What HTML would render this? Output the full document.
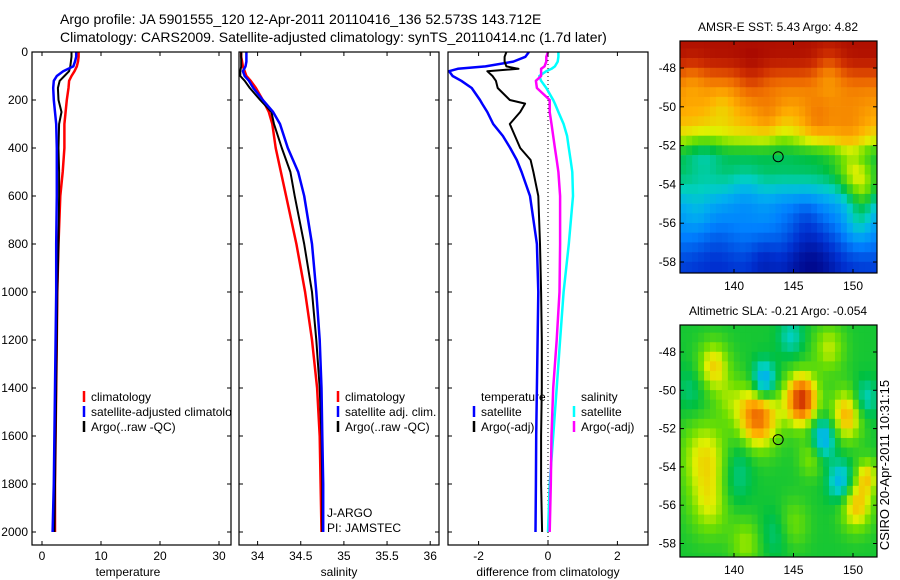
<!DOCTYPE html>
<html><head><meta charset="utf-8"><style>
html,body{margin:0;padding:0;background:#fff;}
svg{display:block;font-family:"Liberation Sans",sans-serif;}
text{fill:#000;}
</style></head><body>
<svg id="fig" width="900" height="580" viewBox="0 0 900 580">
<defs>
<clipPath id="c1"><rect x="32" y="52" width="199" height="493"/></clipPath>
<clipPath id="c2"><rect x="239" y="52" width="200" height="493"/></clipPath>
<clipPath id="c3"><rect x="448" y="52" width="200" height="493"/></clipPath>
<clipPath id="m1"><rect x="680" y="41" width="197" height="232"/></clipPath>
<clipPath id="m2"><rect x="680" y="325" width="197" height="232"/></clipPath>
</defs>
<text x="60" y="24" font-size="14">Argo profile: JA 5901555_120 12-Apr-2011 20110416_136 52.573S 143.712E</text>
<text x="60" y="42" font-size="14">Climatology: CARS2009. Satellite-adjusted climatology: synTS_20110414.nc (1.7d later)</text>
<g id="g"></g>
<text transform="translate(889,465) rotate(-90)" text-anchor="middle" font-size="13">CSIRO 20-Apr-2011 10:31:15</text>
</svg>
<script>
// ---- profile data ----
const depths = [0,20,40,60,80,100,120,150,200,250,300,400,500,600,800,1000,1200,1400,1600,1800,2000];
const tempClim = [6.2,6.2,6.1,5.9,5.5,5.0,4.6,4.5,4.2,4.0,3.8,3.8,3.5,3.1,2.8,2.6,2.5,2.4,2.3,2.2,2.2];
const tempSat = [5.8,5.8,5.6,5.3,3.6,2.5,2.0,1.9,2.0,2.2,2.4,2.5,2.5,2.5,2.4,2.4,2.3,2.2,2.1,2.0,1.8];
const tempArgo = [5.0,5.0,4.9,4.8,4.6,3.8,3.0,2.7,2.8,3.3,2.9,2.8,2.9,2.9,2.8,2.6,2.5,2.4,2.3,2.2,2.1];
const salClim = [33.81,33.81,33.82,33.83,33.85,33.87,33.92,33.98,34.06,34.13,34.17,34.21,34.27,34.33,34.45,34.55,34.63,34.69,34.72,34.73,34.74];
const salSat = [33.87,33.87,33.87,33.86,33.83,33.85,33.9,33.95,34.06,34.18,34.26,34.35,34.47,34.54,34.63,34.68,34.72,34.74,34.75,34.76,34.76];
const salArgo = [33.81,33.81,33.81,33.81,33.80,33.80,33.85,33.91,34.03,34.16,34.19,34.28,34.38,34.43,34.54,34.63,34.68,34.72,34.74,34.75,34.75];
const diffDepths = [0,20,40,60,70,80,100,120,150,200,215,250,300,350,400,450,500,600,800,1000,1200,1400,1600,1800,2000];
const diffTempSat = [-0.55,-0.65,-1.0,-1.8,-2.6,-2.85,-2.75,-2.5,-2.2,-1.96,-1.9,-1.75,-1.58,-1.3,-1.09,-0.9,-0.76,-0.52,-0.32,-0.28,-0.3,-0.32,-0.34,-0.35,-0.36];
const diffTempArgo = [-1.2,-1.25,-1.25,-1.2,-0.85,-1.75,-1.6,-1.5,-1.45,-1.1,-0.66,-0.8,-1.1,-0.95,-0.8,-0.5,-0.42,-0.28,-0.23,-0.2,-0.18,-0.18,-0.2,-0.2,-0.17];
const diffSalSat = [0.3,0.3,0.28,0.2,0.1,-0.05,-0.25,-0.2,-0.05,0.15,0.2,0.3,0.45,0.55,0.6,0.65,0.7,0.72,0.6,0.45,0.35,0.25,0.15,0.05,0.0];
const diffSalArgo = [0,-0.05,-0.05,-0.1,-0.2,-0.2,-0.2,-0.35,-0.32,0.05,0.05,0.05,0.1,0.15,0.2,0.25,0.3,0.35,0.35,0.33,0.25,0.15,0.1,0.08,0.05];
const depthTicks = [0,200,400,600,800,1000,1200,1400,1600,1800,2000];
const tempTicks = [0,10,20,30];
const salTicks = [34,34.5,35,35.5,36];
const salTickLabels = ["34","34.5","35","35.5","36"];
const diffTicks = [-2,0,2];
// ---- map data ----
const sstLats = [46.5,47.5,48,49,50,51,51.7,52.5,53.5,54.5,55,56,57,58,59];
const sstProfile = [0.97,0.96,0.9,0.8,0.76,0.72,0.64,0.5,0.48,0.4,0.34,0.29,0.23,0.16,0.12];
const sstBlobLon = [146.5,151,150.5,149.5,137.5,144,138.5,139,143,147,141.5,148,136.5,141,144,150,137,142.5,146];
const sstBlobLat = [57.5,54.3,56,51.8,52.5,51.3,57,50,50.5,50.8,48.5,48,48.5,54.5,55,53.5,55.5,57.8,55.5];
const sstBlobAmp = [-0.14,0.14,0.12,0.08,-0.06,-0.04,-0.05,-0.05,0.05,0.06,0.05,-0.08,-0.05,-0.06,-0.04,0.1,0.05,-0.06,-0.06];
const sstBlobR = [2,1,1,1.5,1.2,1,1.5,1,1,1,1,1,1,1.2,1,1,1,1,1];
const slaBlobLon = [138.3,142.5,145.7,142,149.5,147.5,149,137.6,138,150.3,151.2,148,151,144.8,146.5,140,143.5,141,140.5,145,139.5,136.5];
const slaBlobLat = [48.8,49.6,50.5,51.3,51.3,52.5,54.8,53.5,56,56,54.5,47.8,50.5,47.2,53.5,55,57.5,58,53.5,57,50.5,50];
const slaBlobAmp = [0.9,-1.3,1.9,1.6,1.1,-1.0,-0.9,0.8,0.6,1.0,0.8,0.6,-0.6,-0.5,0.5,-0.3,-0.3,0.5,-0.3,0.4,0.3,-0.3];
const slaBlobR = [1,0.8,1,1.3,1,0.8,0.8,1.5,1.3,1,0.7,1,0.8,0.8,0.8,1,1,1,1,1,0.8,1];
const mapLatTicks = [48,50,52,54,56,58];
const mapLonTicks = [140,145,150];
const argoLon = 143.712, argoLat = 52.573;

const NS='http://www.w3.org/2000/svg';
const G=document.getElementById('g');
function el(t,a,p){const e=document.createElementNS(NS,t);for(const k in a)e.setAttribute(k,a[k]);(p||G).appendChild(e);return e;}
const yD=d=>52+d*0.24;
const xT=v=>42+v*5.9;
const xS=v=>257.6+(v-34)*86.3;
const xDf=v=>548+v*34.7;

function panel(x0,w,name){
  const r=el('rect',{x:x0,y:52,width:w,height:493,fill:'none',stroke:'#000','stroke-width':1.2});
  
  
}
function yticks(x0,w,labels){
  depthTicks.forEach(d=>{
    const y=yD(d);
    el('line',{x1:x0,x2:x0+4,y1:y,y2:y,stroke:'#000'});
    el('line',{x1:x0+w-4,x2:x0+w,y1:y,y2:y,stroke:'#000'});
    if(labels){const t=el('text',{x:x0-4,y:y+4,'text-anchor':'end','font-size':12});t.textContent=d;
      
      }
  });
}
function xticks(ticks,labs,fx,name){
  ticks.forEach((v,i)=>{const x=fx(v);
    el('line',{x1:x,x2:x,y1:52,y2:56,stroke:'#000'});
    el('line',{x1:x,x2:x,y1:541,y2:545,stroke:'#000'});
    const t=el('text',{x:x,y:560,'text-anchor':'middle','font-size':12});t.textContent=labs[i];
    
    
  });
}
function line(ds,vs,fx,col,w,clip,name){
  const pts=ds.map((d,i)=>fx(vs[i]).toFixed(1)+','+yD(d).toFixed(1));
  const p=el('polyline',{points:pts.join(' '),fill:'none',stroke:col,'stroke-width':w,'stroke-linejoin':'round','clip-path':'url(#'+clip+')'});
  
  
}
function legend(x,y,col,txt,clip){
  el('line',{x1:x,x2:x,y1:y-10,y2:y+1,stroke:col,'stroke-width':2.5});
  const t=el('text',{x:x+7,y:y,'font-size':12,'clip-path':clip?'url(#'+clip+')':''});t.textContent=txt;
  
  
}
function label(x,txt,name){const t=el('text',{x:x,y:576,'text-anchor':'middle','font-size':12});t.textContent=txt;
  
  }

// panel 1 temperature
legend(84,401,'#f00','climatology','c1');
legend(84,416,'#00f','satellite-adjusted climatology','c1');
legend(84,431,'#000','Argo(..raw -QC)','c1');
line(depths,tempClim,xT,'#f00',2.5,'c1','temp-climatology-line');
line(depths,tempArgo,xT,'#000',2,'c1','temp-argo-line');
line(depths,tempSat,xT,'#00f',2.5,'c1','temp-satellite-line');
panel(32,199,'temperature-panel');yticks(32,199,true);
xticks(tempTicks,tempTicks.map(String),xT,'temperature');
label(128,'temperature','temperature-axis-title');

// panel 2 salinity
legend(338,401,'#f00','climatology');
legend(338,416,'#00f','satellite adj. clim.');
legend(338,431,'#000','Argo(..raw -QC)');
line(depths,salClim,xS,'#f00',2.5,'c2','sal-climatology-line');
line(depths,salArgo,xS,'#000',2,'c2','sal-argo-line');
line(depths,salSat,xS,'#00f',2.5,'c2','sal-satellite-line');
panel(239,200,'salinity-panel');yticks(239,200,false);
xticks(salTicks,salTickLabels,xS,'salinity');
label(339,'salinity','salinity-axis-title');
{const t1=el('text',{x:327,y:517,'font-size':12});t1.textContent='J-ARGO';


const t2=el('text',{x:327,y:532,'font-size':12});t2.textContent='PI: JAMSTEC';

}

// panel 3 differences
{const t=el('text',{x:481,y:401,'font-size':12});t.textContent='temperature';


const s=el('text',{x:581,y:401,'font-size':12});s.textContent='salinity';

}
legend(474,416,'#00f','satellite');
legend(474,431,'#000','Argo(-adj)');
legend(574,416,'#0ff','satellite');
legend(574,431,'#f0f','Argo(-adj)');
{const z=el('line',{x1:xDf(0),x2:xDf(0),y1:52,y2:545,stroke:'#000','stroke-dasharray':'1,3'});

}
line(diffDepths,diffTempSat,xDf,'#00f',2.5,'c3','diff-temp-satellite-line');
line(diffDepths,diffTempArgo,xDf,'#000',2,'c3','diff-temp-argo-line');
line(diffDepths,diffSalSat,xDf,'#0ff',2.5,'c3','diff-sal-satellite-line');
line(diffDepths,diffSalArgo,xDf,'#f0f',2.5,'c3','diff-sal-argo-line');
panel(448,200,'difference-panel');yticks(448,200,false);
xticks(diffTicks,diffTicks.map(String),xDf,'difference');
label(548,'difference from climatology','difference-axis-title');

// ---- maps ----
const stops=[[0,[0,0,128]],[0.12,[0,48,208]],[0.25,[0,128,255]],[0.35,[0,176,240]],[0.42,[0,208,192]],[0.5,[0,192,64]],[0.6,[112,224,0]],[0.66,[224,240,0]],[0.74,[255,176,0]],[0.82,[240,112,0]],[0.9,[208,48,0]],[1,[160,0,0]]];
function cmap(v){v=Math.max(0,Math.min(1,v));for(let i=1;i<stops.length;i++){if(v<=stops[i][0]){const a=stops[i-1],b=stops[i],f=(v-a[0])/(b[0]-a[0]);return 'rgb('+a[1].map((c,k)=>Math.round(c+(b[1][k]-c)*f)).join(',')+')';}}return 'rgb(160,0,0)';}
function interp(xs,ys,x){if(x<=xs[0])return ys[0];for(let i=1;i<xs.length;i++)if(x<=xs[i])return ys[i-1]+(ys[i]-ys[i-1])*(x-xs[i-1])/(xs[i]-xs[i-1]);return ys[ys.length-1];}
function blobs(lon,lat,L,A,Am,R,k){let s=0;for(let i=0;i<L.length;i++){const r=R[i]*k;const d2=(lon-L[i])**2+(lat-A[i])**2;s+=Am[i]*Math.exp(-d2/(r*r));}return s;}
function drawMap(top,title,fieldFn,clip,name){
  const lx=l=>734+(l-140)*11.9, ly=a=>top+27+(a-48)*(top===41?19.4:19.15);
  const grp=el('g',{'clip-path':'url(#'+clip+')'});
  
  
  for(let lon=135.5;lon<152.5;lon+=0.5)for(let lat=46.5;lat<59;lat+=0.5){
    const v=fieldFn(lon+0.25,lat+0.25);
    el('rect',{x:lx(lon)-0.2,y:ly(lat)-0.2,width:6.4,height:10,fill:cmap(v)},grp);
  }
  const c=el('circle',{cx:lx(argoLon),cy:ly(argoLat),r:5,fill:'none',stroke:'#000','stroke-width':1});
  
  
  const b=el('rect',{x:680,y:top,width:197,height:232,fill:'none',stroke:'#000','stroke-width':1.2});
  
  
  mapLatTicks.forEach(a=>{const y=ly(a);el('line',{x1:680,x2:684,y1:y,y2:y,stroke:'#000'});el('line',{x1:873,x2:877,y1:y,y2:y,stroke:'#000'});
    const t=el('text',{x:676,y:y+4,'text-anchor':'end','font-size':12});t.textContent='-'+a;
    
    });
  mapLonTicks.forEach(l=>{const x=lx(l);el('line',{x1:x,x2:x,y1:top,y2:top+4,stroke:'#000'});el('line',{x1:x,x2:x,y1:top+228,y2:top+232,stroke:'#000'});
    const t=el('text',{x:x,y:top+249,'text-anchor':'middle','font-size':12});t.textContent=l;
    
    });
  const t=el('text',{x:778,y:top-10,'text-anchor':'middle','font-size':12});t.textContent=title;
  
  
}
drawMap(41,'AMSR-E SST: 5.43 Argo: 4.82',(lon,lat)=>interp(sstLats,sstProfile,lat)+blobs(lon,lat,sstBlobLon,sstBlobLat,sstBlobAmp,sstBlobR,1.2),'m1','sst-map');
drawMap(325,'Altimetric SLA: -0.21 Argo: -0.054',(lon,lat)=>0.52+0.2*blobs(lon,lat,slaBlobLon,slaBlobLat,slaBlobAmp,slaBlobR,1.3),'m2','sla-map');
</script>
</body></html>
